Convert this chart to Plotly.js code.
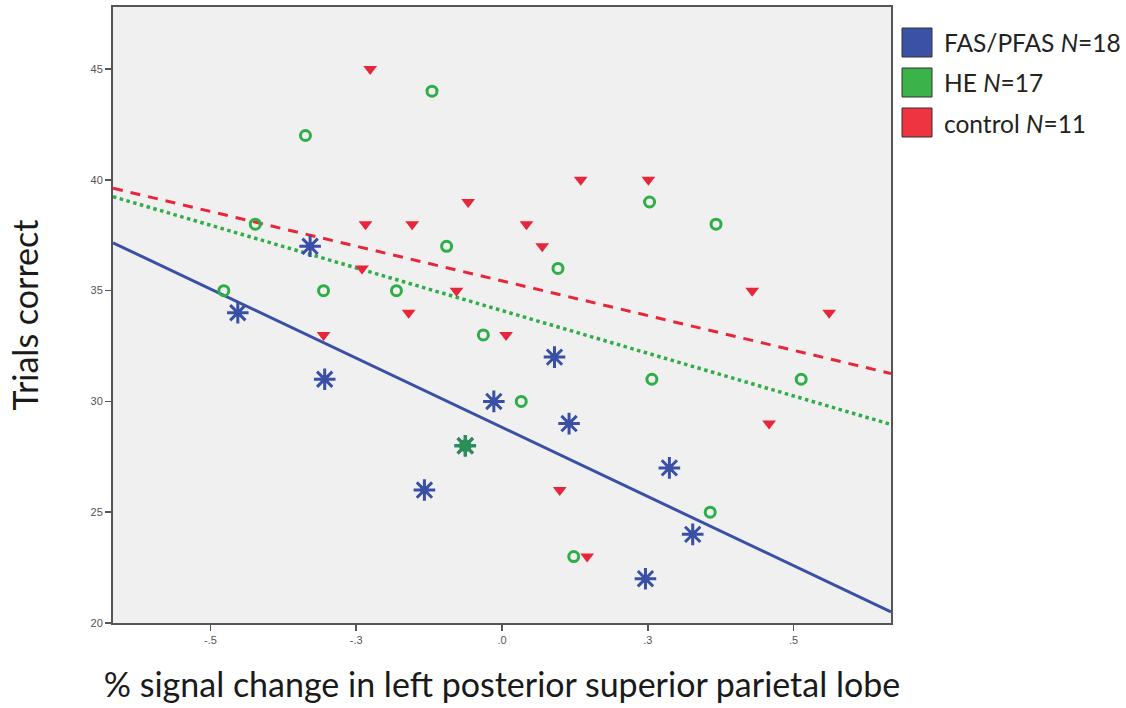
<!DOCTYPE html>
<html>
<head>
<meta charset="utf-8">
<script src="https://cdn.plot.ly/plotly-3.0.1.min.js"></script>
<style>
html, body { margin: 0; padding: 0; background: #ffffff; }
#chart { width: 1126px; height: 708px; }
</style>
</head>
<body>
<div id="chart"></div>
<script>
// ---- Data ----
const groupNames = ["FAS/PFAS <i>N</i>=18", "HE <i>N</i>=17", "control <i>N</i>=11"];

const fasX = [-0.329, -0.453, -0.304, -0.014, -0.133, 0.090, 0.115, 0.287, 0.327, 0.246, -0.063];
const fasY = [37, 34, 31, 30, 26, 32, 29, 27, 24, 22, 28];

const heX = [-0.120, -0.337, -0.423, -0.095, -0.477, -0.306, -0.181, -0.032, -0.063, 0.253, 0.367, 0.096, 0.033, 0.257, 0.513, 0.357, 0.123];
const heY = [44, 42, 38, 37, 35, 35, 35, 33, 28, 39, 38, 36, 30, 31, 31, 25, 23];

const ctrlX = [-0.226, -0.234, -0.154, -0.058, -0.240, -0.078, -0.160, -0.306, 0.135, 0.251, 0.042, 0.069, 0.429, 0.561, 0.007, 0.099, 0.146, 0.458];
const ctrlY = [45, 38, 38, 39, 36, 35, 34, 33, 40, 40, 38, 37, 35, 34, 33, 26, 23, 29];

// fit lines (values at the x-range ends)
const fitX = [-0.667, 0.667];
const fasFit = [37.16, 20.5];
const heFit = [39.24, 28.96];
const ctrlFit = [39.62, 31.26];

const xTickVals = [-0.5, -0.25, 0, 0.25, 0.5];
const xTickText = ["-.5", "-.3", ".0", ".3", ".5"];
const yTickVals = [20, 25, 30, 35, 40, 45];

const xTitle = "% signal change in left posterior superior parietal lobe";
const yTitle = "Trials correct";

// ---- Styles ----
const BLUE = "#3a50a6";
const GREEN = "#2fae47";
const RED = "#e8263a";
const OVERLAP = "#2a8f55";
const LEG_BLUE = "#3b51a5";
const LEG_GREEN = "#3bb34a";
const LEG_RED = "#ee3440";
const TITLE_FONT = "Lato, 'Open Sans', sans-serif";

// points common to FAS and HE (drawn blended)
const ovX = [], ovY = [];
fasX.forEach((x, i) => {
  heX.forEach((hx, j) => {
    if (Math.abs(hx - x) < 1e-9 && heY[j] === fasY[i]) { ovX.push(x); ovY.push(fasY[i]); }
  });
});

const traces = [
  { x: fitX, y: fasFit, mode: "lines", line: { color: BLUE, width: 3 }, hoverinfo: "skip" },
  { x: fitX, y: heFit, mode: "lines", line: { color: GREEN, width: 3.5, dash: "dot" }, hoverinfo: "skip" },
  { x: fitX, y: ctrlFit, mode: "lines", line: { color: RED, width: 3, dash: "10px,8px" }, hoverinfo: "skip" },
  { x: ctrlX, y: ctrlY, mode: "markers", name: groupNames[2],
    marker: { symbol: "triangle-down", size: 12, color: RED, line: { width: 0 } } },
  { x: heX, y: heY, mode: "markers", name: groupNames[1],
    marker: { symbol: "circle-open", size: 10, color: GREEN, line: { width: 3, color: GREEN } } },
  { x: fasX, y: fasY, mode: "markers", name: groupNames[0],
    marker: { symbol: "asterisk", size: 18, color: BLUE, line: { width: 3, color: BLUE } } },
  { x: fasX, y: fasY, mode: "markers", hoverinfo: "skip",
    marker: { symbol: "circle", size: 8, color: BLUE } },
  { x: ovX, y: ovY, mode: "markers", hoverinfo: "skip",
    marker: { symbol: "asterisk", size: 18, color: OVERLAP, line: { width: 3, color: OVERLAP } } },
  { x: ovX, y: ovY, mode: "markers", hoverinfo: "skip",
    marker: { symbol: "circle", size: 8, color: OVERLAP } }
];

// legend drawn as boxes + labels to the right of the plot
const L = 113, R = 891, T = 7, B = 623;
const W = R - L, H = B - T;
const px2x = p => (p - L) / W;
const px2y = p => (B - p) / H;
const legColors = [LEG_BLUE, LEG_GREEN, LEG_RED];
const shapes = [], annotations = [];
groupNames.forEach((name, i) => {
  const top = 28 + i * 40;
  shapes.push({ type: "rect", xref: "paper", yref: "paper",
    x0: px2x(902), x1: px2x(932), y0: px2y(top), y1: px2y(top + 29),
    fillcolor: legColors[i], line: { color: "#333333", width: 1 } });
  annotations.push({ xref: "paper", yref: "paper", x: px2x(942), y: px2y(top + 15),
    xanchor: "left", yanchor: "middle", showarrow: false, text: name,
    font: { family: TITLE_FONT, size: 24.5, color: "#222222" } });
});

const layout = {
  width: 1126, height: 708,
  margin: { l: L, r: 1126 - R, t: T, b: 708 - B, pad: 0 },
  paper_bgcolor: "#ffffff",
  plot_bgcolor: "#f0f0f0",
  showlegend: false,
  xaxis: {
    range: [-0.667, 0.667], tickmode: "array", tickvals: xTickVals, ticktext: xTickText,
    showgrid: false, zeroline: false, showline: true, mirror: true,
    linecolor: "#555555", linewidth: 2, ticks: "outside", ticklen: 6, tickwidth: 1.5, tickcolor: "#555555",
    tickfont: { family: "Arial, 'Liberation Sans', sans-serif", size: 11, color: "#555555" },
    title: { text: xTitle, standoff: 28,
      font: { family: TITLE_FONT, size: 34, color: "#1a1a1a" } }
  },
  yaxis: {
    range: [20, 47.8], tickmode: "array", tickvals: yTickVals,
    showgrid: false, zeroline: false, showline: true, mirror: true,
    linecolor: "#555555", linewidth: 2, ticks: "outside", ticklen: 6, tickwidth: 1.5, tickcolor: "#555555",
    tickfont: { family: "Arial, 'Liberation Sans', sans-serif", size: 11, color: "#555555" },
    title: { text: yTitle, standoff: 42,
      font: { family: TITLE_FONT, size: 34, color: "#1a1a1a" } }
  },
  shapes: shapes,
  annotations: annotations
};

Plotly.newPlot("chart", traces, layout, { displayModeBar: false, staticPlot: true });
</script>
</body>
</html>
